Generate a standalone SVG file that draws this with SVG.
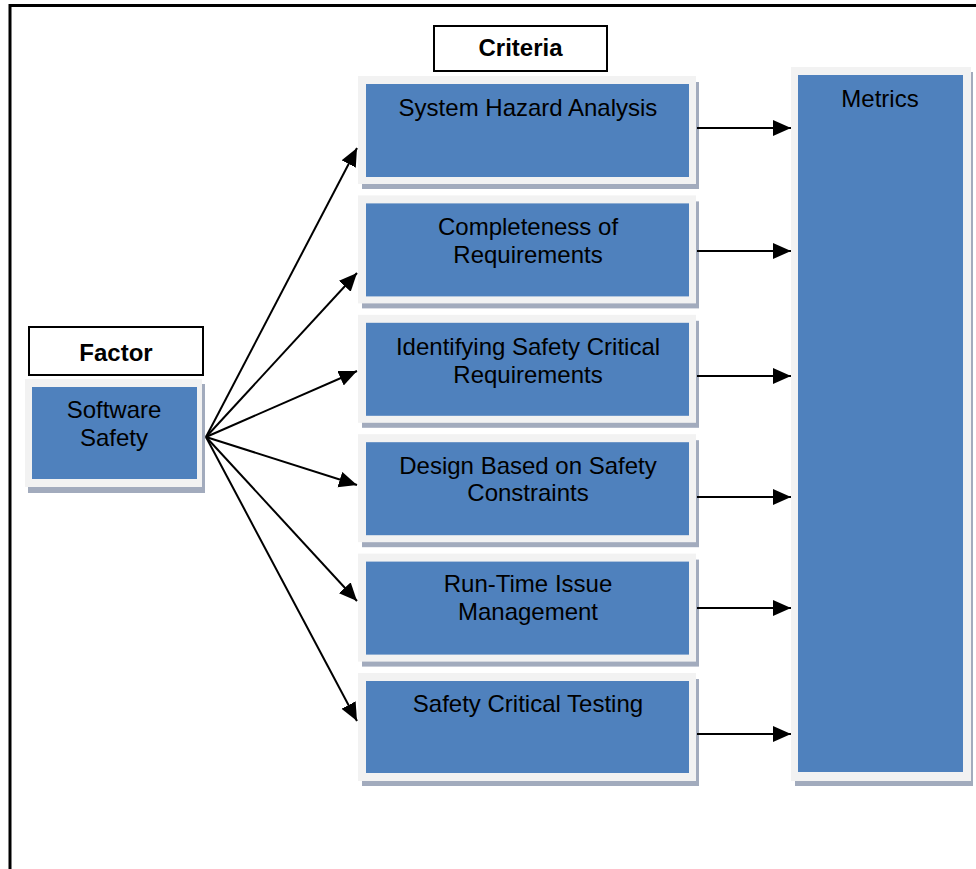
<svg xmlns="http://www.w3.org/2000/svg" width="976" height="869" viewBox="0 0 976 869">
<style>
.t{font-family:"Liberation Sans",Arial,sans-serif;font-size:24px;fill:#000;text-anchor:middle}
.b{font-weight:bold}
.frame{fill:#f2f2f2}
.blue{fill:#4f81bd}
.shadow{fill:#a2abbd}
.lbl{fill:#fff;stroke:#000;stroke-width:2}
.con{stroke:#000;stroke-width:2;fill:none}
</style>
<defs>
<marker id="ah" markerUnits="userSpaceOnUse" markerWidth="19" markerHeight="17" refX="18" refY="8" orient="auto" viewBox="0 0 19 17">
<path d="M0,0 L18,8 L0,16 z" fill="#000"/>
</marker>
</defs>
<rect width="976" height="869" fill="#fff"/>
<path d="M10,869 V5.5 H976" fill="none" stroke="#000" stroke-width="3"/>

<g id="criteria-label">
<rect class="lbl" x="434" y="26" width="173" height="45"/>
<text class="t b" x="520.5" y="56">Criteria</text>
</g>
<g id="factor-label">
<rect class="lbl" x="29" y="327" width="174" height="48"/>
<text class="t b" x="116" y="361">Factor</text>
</g>

<g id="software-safety">
<rect class="shadow" x="28" y="384" width="177" height="109"/>
<rect class="frame" x="25" y="379" width="177" height="108"/>
<rect class="blue" x="32" y="387" width="165" height="92"/>
<text class="t" x="114" y="418">Software</text>
<text class="t" x="114" y="446">Safety</text>
</g>

<g id="system-hazard-analysis">
<rect class="shadow" x="362" y="82" width="337" height="107"/>
<rect class="frame" x="358" y="76" width="338" height="108"/>
<rect class="blue" x="366" y="84" width="323" height="93"/>
<text class="t" x="528" y="116">System Hazard Analysis</text>
</g>
<g id="completeness">
<rect class="shadow" x="362" y="201.4" width="337" height="107"/>
<rect class="frame" x="358" y="195.4" width="338" height="108"/>
<rect class="blue" x="366" y="203.4" width="323" height="93"/>
<text class="t" x="528" y="235">Completeness of</text>
<text class="t" x="528" y="263">Requirements</text>
</g>
<g id="identifying">
<rect class="shadow" x="362" y="320.8" width="337" height="107"/>
<rect class="frame" x="358" y="314.8" width="338" height="108"/>
<rect class="blue" x="366" y="322.8" width="323" height="93"/>
<text class="t" x="528" y="355">Identifying Safety Critical</text>
<text class="t" x="528" y="383">Requirements</text>
</g>
<g id="design">
<rect class="shadow" x="362" y="440.2" width="337" height="107"/>
<rect class="frame" x="358" y="434.2" width="338" height="108"/>
<rect class="blue" x="366" y="442.2" width="323" height="93"/>
<text class="t" x="528" y="474">Design Based on Safety</text>
<text class="t" x="528" y="501">Constraints</text>
</g>
<g id="run-time">
<rect class="shadow" x="362" y="559.6" width="337" height="107"/>
<rect class="frame" x="358" y="553.6" width="338" height="108"/>
<rect class="blue" x="366" y="561.6" width="323" height="93"/>
<text class="t" x="528" y="592">Run-Time Issue</text>
<text class="t" x="528" y="620">Management</text>
</g>
<g id="safety-critical-testing">
<rect class="shadow" x="362" y="679" width="337" height="107"/>
<rect class="frame" x="358" y="673" width="338" height="108"/>
<rect class="blue" x="366" y="681" width="323" height="92"/>
<text class="t" x="528" y="712">Safety Critical Testing</text>
</g>

<g id="metrics">
<rect class="shadow" x="795" y="72" width="178" height="714"/>
<rect class="frame" x="791" y="67" width="180" height="714"/>
<rect class="blue" x="798" y="75" width="165" height="697"/>
<text class="t" x="880" y="107">Metrics</text>
</g>

<g id="connectors">
<line class="con" x1="206" y1="437" x2="357" y2="148" marker-end="url(#ah)"/>
<line class="con" x1="206" y1="437" x2="357" y2="273" marker-end="url(#ah)"/>
<line class="con" x1="206" y1="437" x2="357" y2="371" marker-end="url(#ah)"/>
<line class="con" x1="206" y1="437" x2="357" y2="485" marker-end="url(#ah)"/>
<line class="con" x1="206" y1="437" x2="357" y2="601" marker-end="url(#ah)"/>
<line class="con" x1="206" y1="437" x2="357" y2="721" marker-end="url(#ah)"/>
<line class="con" x1="697" y1="128" x2="791" y2="128" marker-end="url(#ah)"/>
<line class="con" x1="697" y1="251" x2="791" y2="251" marker-end="url(#ah)"/>
<line class="con" x1="697" y1="376" x2="791" y2="376" marker-end="url(#ah)"/>
<line class="con" x1="697" y1="497" x2="791" y2="497" marker-end="url(#ah)"/>
<line class="con" x1="697" y1="608" x2="791" y2="608" marker-end="url(#ah)"/>
<line class="con" x1="697" y1="734" x2="791" y2="734" marker-end="url(#ah)"/>
</g>
</svg>
